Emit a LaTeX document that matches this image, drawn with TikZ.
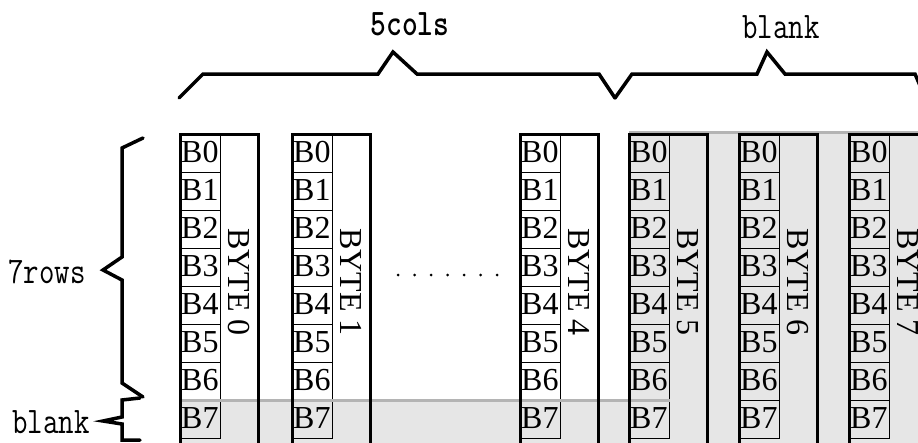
\documentclass[tikz,border=0pt]{standalone}
\usepackage{fontspec}
\setmainfont{Liberation Serif}
\usepackage{xcolor}
\usepackage{graphicx}
\usepackage{tikz}
\usetikzlibrary{positioning}

\definecolor{blankfill}{HTML}{E6E6E6}
\definecolor{blankedge}{HTML}{B4B4B4}

\newcommand{\dimtext}[1]{\scalebox{1}[1.25]{#1}}

\tikzset{
  bytebox/.style={draw=black, line width=3pt},
  bitcell/.style={draw=black, line width=0.8pt},
  bitlabel/.style={anchor=base west, inner sep=0pt, font=\fontsize{32}{32}\selectfont},
  bytelabel/.style={rotate=-90, inner sep=0pt, font=\fontsize{32}{32}\selectfont},
  brace/.style={line width=3.5pt, line join=miter, line cap=round},
  blankedgeline/.style={blankedge, line width=3pt},
  dimlabel/.style={anchor=base, inner sep=0pt, font=\ttfamily\fontsize{30}{30}\selectfont},
}

\begin{document}
\begin{tikzpicture}[x=1pt, y=-1pt]
\useasboundingbox (0,0) rectangle (918,442);
\clip (0,0) rectangle (918,442);

% blank areas
\fill[blankfill] (180,400) rectangle (670,450);
\fill[blankfill] (629,132) rectangle (925,450);

% the byte columns
\foreach \x/\n in {180/0, 292/1, 520/4, 629/5, 739/6, 849/7}{
  \foreach \r in {0,...,7}{
    \draw[bitcell] (\x,134+38.1*\r) rectangle (\x+40,134+38.1*\r+38.1);
    \node[bitlabel] (b\n-\r) at (\x+1,134+38.1*\r+28) {B\r};
  }
}

\draw[blankedgeline] (180,400) -- (670,400);
\draw[blankedgeline] (629,132) -- (925,132);

\foreach \x/\n in {180/0, 292/1, 520/4, 629/5, 739/6, 849/7}{
  \draw[bytebox] (\x,134) rectangle (\x+78,450);
  \node[bytelabel] (byte\n) at (\x+59,282) {BYTE \n};
}

% dots between BYTE 1 and BYTE 4
\foreach \i in {0,...,6}
  \fill (398+16.5*\i,275) circle (1.5pt);

% braces
\draw[brace] (179,98) -- (203,74) -- (378,74) -- (393,52) -- (417,74) -- (599,74) -- (615,98);
\draw[brace] (615,98) -- (632,74) -- (757,74) -- (767,52) -- (785,74) -- (915,74) -- (921,88);
\draw[brace] (143,138) -- (122,148) -- (122,257) -- (103,270) -- (122,280) -- (122,383) -- (143,397);
\draw[brace] (140,398) -- (122,400) -- (122,417) -- (103,421) -- (122,424) -- (122,440) -- (140,440);

\node[dimlabel, font=\ttfamily\bfseries\fontsize{30}{30}\selectfont] (cols) at (410,35) {\dimtext{5cols}};
\node[dimlabel] (blankcols) at (781,38) {\dimtext{blank}};
\node[dimlabel] (rows) at (47,283) {\dimtext{7rows}};
\node[dimlabel] (blankrows) at (51,433) {\dimtext{blank}};
\end{tikzpicture}
\end{document}
